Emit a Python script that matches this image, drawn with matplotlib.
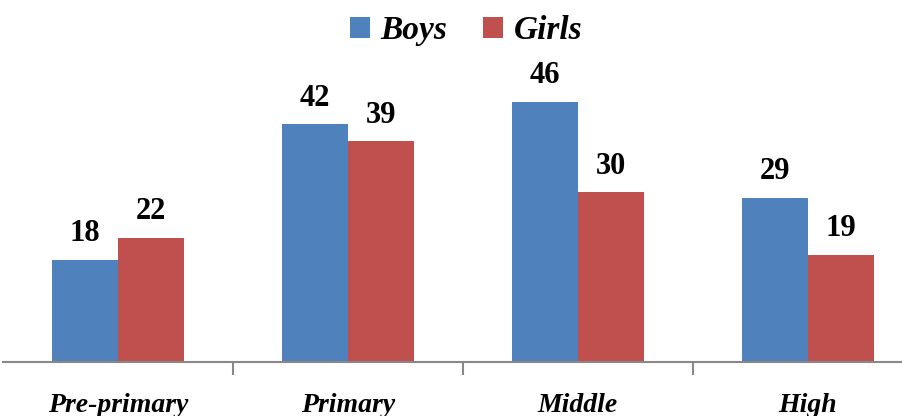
import matplotlib as mpl
import matplotlib.pyplot as pp
import numpy as np

categories = ["Pre-primary", "Primary", "Middle", "High"]
boys = [18, 42, 46, 29]
girls = [22, 39, 30, 19]

pp.rcParams["font.family"] = "Liberation Serif"

fig = pp.figure(figsize=(9.02, 4.16), dpi=100)
ax = fig.add_axes([3 / 902, 54 / 416, 899 / 902, 362 / 416])

x = np.arange(len(categories))
w = 0.287
b1 = ax.bar(x - w / 2, boys, w, color="#4F81BD", label="Boys")
b2 = ax.bar(x + w / 2, girls, w, color="#C0504D", label="Girls")

for bars in (b1, b2):
    for rect in bars:
        ax.annotate(f"{rect.get_height():g}",
                    (rect.get_x() + rect.get_width() / 2, rect.get_height()),
                    xytext=(0, 13.5), textcoords="offset points",
                    ha="center", va="baseline", fontsize=22, fontweight="bold")

ax.set_xlim(-0.5, 3.41)
ax.set_ylim(0, 64)
ax.set_yticks([])
ax.set_xticks(x, categories, fontsize=20, fontweight="bold", fontstyle="italic")
ax.tick_params(axis="x", which="major", length=0, pad=22)
ax.set_xticks([0.5, 1.5, 2.5], minor=True)
ax.tick_params(axis="x", which="minor", length=9, width=1.5, color="#888888")
for s in ("left", "top", "right"):
    ax.spines[s].set_visible(False)
ax.spines["bottom"].set_color("#888888")
ax.spines["bottom"].set_linewidth(1.5)

fig.legend(handles=[b1, b2], loc="upper center", bbox_to_anchor=(466 / 902, 1.035), ncol=2,
           frameon=False, prop={"size": 24, "weight": "bold", "style": "italic"},
           handlelength=0.6, handleheight=0.6, handletextpad=0.3, columnspacing=1.1)

pp.savefig("out.png", dpi=100)
